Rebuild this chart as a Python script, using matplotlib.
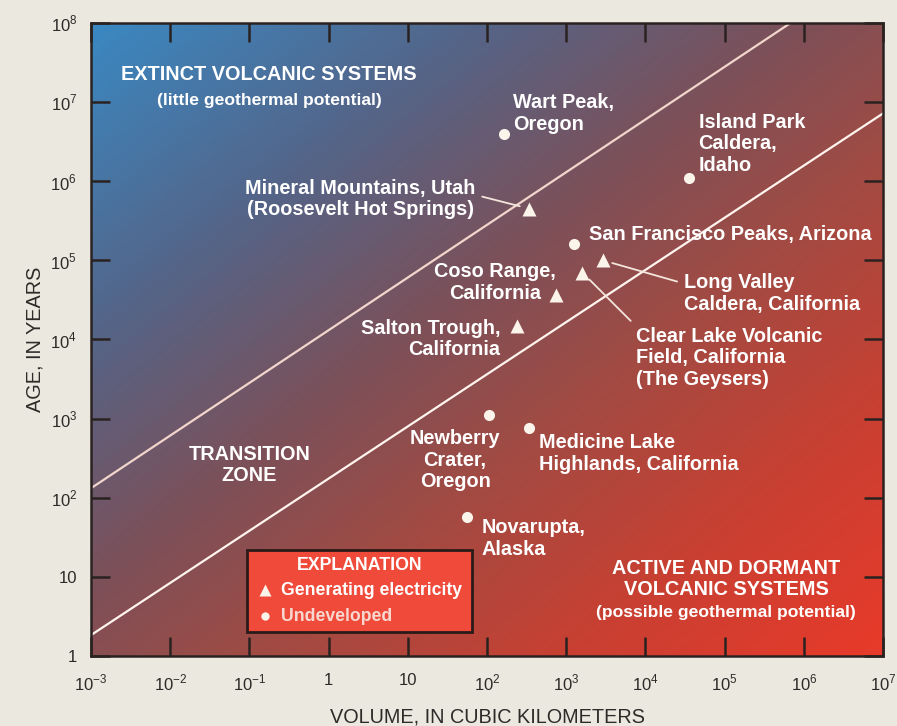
import numpy as np
import matplotlib
matplotlib.use('Agg')
import matplotlib.pyplot as plt
from matplotlib.colors import LinearSegmentedColormap
from matplotlib.patches import Rectangle
from matplotlib.ticker import FixedLocator, FixedFormatter

plt.rcParams['font.family'] = ['Liberation Sans', 'DejaVu Sans']
plt.rcParams['mathtext.fontset'] = 'custom'
plt.rcParams['mathtext.rm'] = 'Liberation Sans'

# volcanic systems: volume (km^3), age (years), kind
sites = ['Wart Peak,\nOregon',
         'Island Park\nCaldera,\nIdaho',
         'Mineral Mountains, Utah\n(Roosevelt Hot Springs)',
         'San Francisco Peaks, Arizona',
         'Long Valley\nCaldera, California',
         'Clear Lake Volcanic\nField, California\n(The Geysers)',
         'Coso Range,\nCalifornia',
         'Salton Trough,\nCalifornia',
         'Newberry\nCrater,\nOregon',
         'Medicine Lake\nHighlands, California',
         'Novarupta,\nAlaska']
volume = [165, 35000, 340, 1260, 2900, 1600, 740, 240, 106, 340, 56]
age = [3.9e6, 1.1e6, 4.5e5, 1.6e5, 1.0e5, 7.0e4, 3.6e4, 1.5e4, 1.1e3, 760, 57]
generating = [False, False, True, False, True, True, True, True, False, False, False]

# zone boundary lines (end points)
upper_vol = [1e-3, 6.8e5]
upper_age = [132, 1e8]
lower_vol = [1e-3, 1e7]
lower_age = [1.84, 7.2e6]

x_ticks = [1e-3, 1e-2, 1e-1, 1, 10, 1e2, 1e3, 1e4, 1e5, 1e6, 1e7]
x_labels = ['$10^{-3}$', '$10^{-2}$', '$10^{-1}$', '1', '10', '$10^{2}$',
            '$10^{3}$', '$10^{4}$', '$10^{5}$', '$10^{6}$', '$10^{7}$']
y_ticks = [1, 10, 1e2, 1e3, 1e4, 1e5, 1e6, 1e7, 1e8]
y_labels = ['1', '10', '$10^{2}$', '$10^{3}$', '$10^{4}$', '$10^{5}$',
            '$10^{6}$', '$10^{7}$', '$10^{8}$']

# label offsets in pixels (dx, dy), alignment, leader line
label_off = [(9, 41, 'left', False), (10, 65, 'left', False),
             (-169, 30, 'center', True), (15, 19, 'left', False),
             (81, -13, 'left', True), (54, -54, 'left', True),
             (-61, 33, 'center', False), (-17, 7, 'right', False),
             (-34, -14, 'center', False), (10, -5, 'left', False),
             (14, -1, 'left', False)]
leader_relpos = {2: (1.0, 0.6), 4: (0.0, 0.75), 5: (0.0, 1.0)}

fig = plt.figure(figsize=(8.97, 7.26), dpi=100)
fig.patch.set_facecolor('#ebe8e0')
ax = fig.add_axes([0.1015, 0.0964, 0.883, 0.872])
ax.set_xscale('log')
ax.set_yscale('log')
ax.set_xlim(1e-3, 1e7)
ax.set_ylim(1, 1e8)

# diagonal blue -> red gradient background
cmap = LinearSegmentedColormap.from_list('bg', [
    (0.0, (58/255, 136/255, 194/255)),
    (0.25, (85/255, 100/255, 135/255)),
    (0.45, (125/255, 80/255, 88/255)),
    (0.6, (160/255, 75/255, 68/255)),
    (0.8, (200/255, 64/255, 50/255)),
    (1.0, (232/255, 58/255, 42/255))])
u, v = np.meshgrid(np.linspace(0, 1, 300), np.linspace(1, 0, 300))
t = (u + (1 - v)) / 2
ax.imshow(t, cmap=cmap, extent=[0, 1, 0, 1], transform=ax.transAxes,
          aspect='auto', zorder=0, interpolation='bilinear')

ax.plot(upper_vol, upper_age, color='#f2d6cc', lw=1.6, zorder=2)
ax.plot(lower_vol, lower_age, color='#fff4ee', lw=1.6, zorder=2)

for i in range(len(sites)):
    mk = '^' if generating[i] else 'o'
    ms = 10 if generating[i] else 8
    ax.plot(volume[i], age[i], marker=mk, ms=ms, color='#fbf4ea',
            mec='none', zorder=4)
    dx, dy, ha, lead = label_off[i]
    kw = {}
    if lead:
        kw['arrowprops'] = dict(arrowstyle='-', color='#f4e6dc', lw=1.3,
                                shrinkA=3, shrinkB=7,
                                relpos=leader_relpos[i])
    ax.annotate(sites[i], (volume[i], age[i]), xytext=(dx, dy),
                textcoords='offset pixels', ha=ha, va='top',
                color='white', fontsize=14.3, fontweight='bold',
                linespacing=1.17, multialignment=ha, zorder=5, **kw)

# zone labels
ax.text(0.225, 0.918, 'EXTINCT VOLCANIC SYSTEMS', transform=ax.transAxes,
        ha='center', va='center', color='white', fontsize=14.3, fontweight='bold')
ax.text(0.225, 0.878, '(little geothermal potential)', transform=ax.transAxes,
        ha='center', va='center', color='white', fontsize=12.6, fontweight='bold')
ax.text(0.2, 0.302, 'TRANSITION\nZONE', transform=ax.transAxes,
        ha='center', va='center', color='white', fontsize=14.3, fontweight='bold',
        linespacing=1.17)
ax.text(0.802, 0.122, 'ACTIVE AND DORMANT\nVOLCANIC SYSTEMS', transform=ax.transAxes,
        ha='center', va='center', color='white', fontsize=14.3, fontweight='bold',
        linespacing=1.17)
ax.text(0.802, 0.0695, '(possible geothermal potential)', transform=ax.transAxes,
        ha='center', va='center', color='white', fontsize=12.6, fontweight='bold')

# explanation box
ax.add_patch(Rectangle((0.197, 0.038), 0.284, 0.129, transform=ax.transAxes,
                       facecolor='#ef4a3a', edgecolor='#2a1a18', lw=2, zorder=6))
ax.text(0.339, 0.143, 'EXPLANATION', transform=ax.transAxes, ha='center',
        va='center', color='white', fontsize=12.8, fontweight='bold', zorder=7)
ax.plot([0.219], [0.104], transform=ax.transAxes, marker='^', ms=9,
        color='#fbf4ea', mec='none', zorder=7)
ax.text(0.24, 0.104, 'Generating electricity', transform=ax.transAxes,
        ha='left', va='center', color='white', fontsize=12.7, fontweight='bold',
        zorder=7)
ax.plot([0.219], [0.063], transform=ax.transAxes, marker='o', ms=6,
        color='#fbf4ea', mec='none', zorder=7)
ax.text(0.24, 0.063, 'Undeveloped', transform=ax.transAxes,
        ha='left', va='center', color='#f6d8d0', fontsize=12.7, fontweight='bold',
        zorder=7)

# axes, ticks
for s in ax.spines.values():
    s.set_color('#2a2220')
    s.set_linewidth(1.8)
ax.xaxis.set_major_locator(FixedLocator(x_ticks))
ax.xaxis.set_major_formatter(FixedFormatter(x_labels))
ax.yaxis.set_major_locator(FixedLocator(y_ticks))
ax.yaxis.set_major_formatter(FixedFormatter(y_labels))
ax.minorticks_off()
ax.tick_params(which='major', direction='in', length=14, width=1.8,
               color='#2a2220', top=True, right=True, labelsize=12,
               labelcolor='#2e2a28')
ax.tick_params(axis='x', pad=12)
ax.tick_params(axis='y', pad=10)
ax.set_xlabel('VOLUME, IN CUBIC KILOMETERS', fontsize=14.3, color='#2e2a28',
              labelpad=10)
ax.set_ylabel('AGE, IN YEARS', fontsize=14.3, color='#2e2a28', labelpad=4)

fig.savefig('out.png', dpi=100, facecolor=fig.get_facecolor())
